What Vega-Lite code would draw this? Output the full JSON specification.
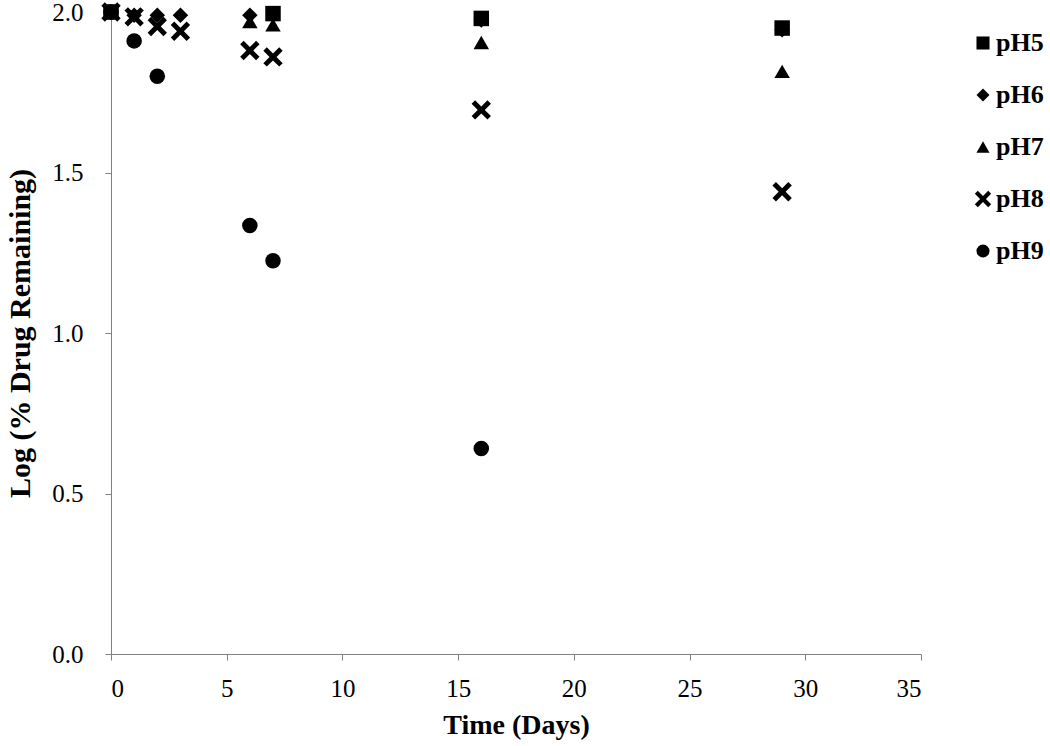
{
  "$schema": "https://vega.github.io/schema/vega-lite/v6.json",
  "autosize": {"type": "none"},
  "width": 810,
  "height": 642,
  "padding": {"left": 111, "top": 12, "right": 129, "bottom": 92},
  "background": "white",
  "config": {"view": {"stroke": null}},
  "data": {"values": [
    {"day": 0, "series": "pH5", "logval": 2.0},
    {"day": 7, "series": "pH5", "logval": 1.995},
    {"day": 16, "series": "pH5", "logval": 1.98},
    {"day": 29, "series": "pH5", "logval": 1.95},
    {"day": 0, "series": "pH6", "logval": 2.0},
    {"day": 1, "series": "pH6", "logval": 1.99},
    {"day": 2, "series": "pH6", "logval": 1.99},
    {"day": 3, "series": "pH6", "logval": 1.99},
    {"day": 6, "series": "pH6", "logval": 1.99},
    {"day": 16, "series": "pH6", "logval": 1.975},
    {"day": 29, "series": "pH6", "logval": 1.945},
    {"day": 0, "series": "pH7", "logval": 2.0},
    {"day": 6, "series": "pH7", "logval": 1.97},
    {"day": 7, "series": "pH7", "logval": 1.96},
    {"day": 16, "series": "pH7", "logval": 1.905},
    {"day": 29, "series": "pH7", "logval": 1.815},
    {"day": 0, "series": "pH8", "logval": 2.0},
    {"day": 1, "series": "pH8", "logval": 1.985},
    {"day": 2, "series": "pH8", "logval": 1.955},
    {"day": 3, "series": "pH8", "logval": 1.94},
    {"day": 6, "series": "pH8", "logval": 1.88},
    {"day": 7, "series": "pH8", "logval": 1.86},
    {"day": 16, "series": "pH8", "logval": 1.695},
    {"day": 29, "series": "pH8", "logval": 1.44},
    {"day": 0, "series": "pH9", "logval": 2.0},
    {"day": 1, "series": "pH9", "logval": 1.91},
    {"day": 2, "series": "pH9", "logval": 1.80},
    {"day": 6, "series": "pH9", "logval": 1.335},
    {"day": 7, "series": "pH9", "logval": 1.225},
    {"day": 16, "series": "pH9", "logval": 0.64}
  ]},
  "mark": {"type": "point", "filled": true, "color": "black", "opacity": 1, "size": 240},
  "encoding": {
    "x": {
      "field": "day", "type": "quantitative",
      "scale": {"domain": [0, 35], "nice": false, "zero": true},
      "axis": {
        "title": "Time (Days)", "values": [0, 5, 10, 15, 20, 25, 30, 35],
        "grid": false, "domainColor": "#808080", "tickColor": "#808080",
        "tickSize": 6, "labelPadding": 16, "labelFont": "Liberation Serif",
        "labelFontSize": 25, "labelColor": "black",
        "titleFont": "Liberation Serif", "titleFontSize": 28, "titleFontWeight": "bold",
        "titleColor": "black", "titlePadding": 10
      }
    },
    "y": {
      "field": "logval", "type": "quantitative",
      "scale": {"domain": [0, 2], "nice": false},
      "axis": {
        "title": "Log (% Drug Remaining)", "values": [0, 0.5, 1, 1.5, 2], "format": ".1f",
        "grid": false, "domainColor": "#808080", "tickColor": "#808080",
        "tickSize": 6, "labelPadding": 22, "labelFont": "Liberation Serif",
        "labelFontSize": 25, "labelColor": "black",
        "titleFont": "Liberation Serif", "titleFontSize": 30, "titleFontWeight": "bold",
        "titleColor": "black", "titlePadding": 16
      }
    },
    "shape": {
      "field": "series", "type": "nominal",
      "scale": {
        "domain": ["pH5", "pH6", "pH7", "pH8", "pH9"],
        "range": ["square", "diamond", "triangle-up", "M-1.25,-0.8L-0.8,-1.25L0,-0.45L0.8,-1.25L1.25,-0.8L0.45,0L1.25,0.8L0.8,1.25L0,0.45L-0.8,1.25L-1.25,0.8L-0.45,0Z", "circle"]
      },
      "legend": {
        "title": null, "orient": "none", "legendX": 859, "legendY": 18,
        "symbolFillColor": "black", "symbolStrokeColor": "black", "symbolSize": 170,
        "labelFont": "Liberation Serif", "labelFontSize": 26, "labelFontWeight": "bold",
        "labelColor": "black", "rowPadding": 26, "labelOffset": 0
      }
    }
  }
}
